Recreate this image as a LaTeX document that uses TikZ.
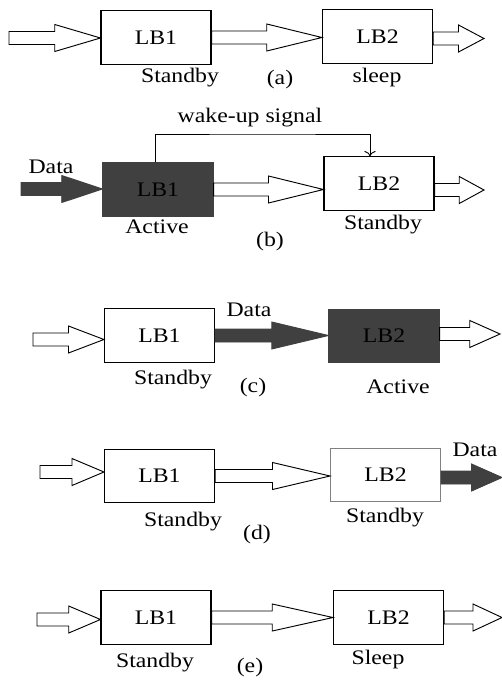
\documentclass[tikz,border=0pt]{standalone}
\usepackage{fontspec}
\setmainfont{Liberation Serif}[FakeStretch=1.15]
\usepackage{xcolor}
\usetikzlibrary{calc, arrows.meta}

\definecolor{activegray}{HTML}{404040}

\tikzset{
  lbbox/.style={draw, rectangle, line width=0.8pt, minimum width=82.5pt, minimum height=40pt, inner sep=0pt},
  activebox/.style={lbbox, fill=activegray, draw=activegray},
  hollowarrow/.style={draw, line width=0.7pt, fill=white},
  dataarrow/.style={draw=activegray, fill=activegray, line width=0.7pt}
}

% fat arrow from a tail point to the x of a target, at the tail's height
\newcommand{\blockarrow}[3][hollowarrow]{%
  \path (#2) coordinate (bat) (bat -| #3) coordinate (bap);
  \path ($(bat)!0.5!(bap)$) coordinate (bam);
  \draw[#1] ($(bat)+(0,-6.5)$) -- ($(bam)+(0,-6.5)$) -- ($(bam)+(0,-13.5)$) -- (bap)
    -- ($(bam)+(0,13.5)$) -- ($(bam)+(0,6.5)$) -- ($(bat)+(0,6.5)$) -- cycle;}

\begin{document}
\begin{tikzpicture}[x=0.75pt, y=-0.75pt, font=\fontsize{15.5}{18}\selectfont]
        \useasboundingbox (0,0) rectangle (502,681);

        % (a)
        \node[lbbox] (lb1a) at (156,37.5) {LB1};
        \node[lbbox] (lb2a) at (377.5,36.5) {LB2};
        \coordinate (ina) at (9,38);
        \coordinate (outa) at (484,38.5);
        \blockarrow{ina}{lb1a.west}
        \blockarrow{lb1a.east}{lb2a.west}
        \blockarrow{lb2a.east |- outa}{outa}
        \node (sta) at (180,78) {Standby};
        \node (capa) at (280,80) {(a)};
        \node (sla) at (377,78) {sleep};

        % (b)
        \node[activebox] (lb1b) at (158,189.5) {LB1};
        \node[lbbox] (lb2b) at (379,183.5) {LB2};
        \coordinate (inb) at (21,189);
        \coordinate (outb) at (484,190);
        \coordinate (wk) at (262,134);
        \blockarrow[dataarrow]{inb}{lb1b.west}
        \blockarrow{lb1b.east}{lb2b.west}
        \blockarrow{lb2b.east |- outb}{outb}
        \draw[line width=0.7pt, -{To[length=4pt]}] ($(lb1b.north)+(-3,0)$) |- (wk) -| ($(lb2b.north)+(-9,0)$);
        \node (wake) at (250,118) {wake-up signal};
        \node (datb) at (51,167) {Data};
        \node (acb) at (157,227) {Active};
        \node (stb) at (383,225) {Standby};
        \node (capb) at (270,242) {(b)};

        % (c)
        \node[lbbox] (lb1c) at (159.5,335.5) {LB1};
        \node[activebox] (lb2c) at (384,336) {LB2};
        \coordinate (inc) at (33,339.5);
        \coordinate (outc) at (500,334);
        \blockarrow{inc}{lb1c.west}
        \blockarrow[dataarrow]{lb1c.east}{lb2c.west}
        \blockarrow{lb2c.east |- outc}{outc}
        \node (datc) at (249,310) {Data};
        \node (stc) at (173,380) {Standby};
        \node (capc) at (253,388) {(c)};
        \node (acc) at (398,387) {Active};

        % (d)
        \node[lbbox] (lb1d) at (159.5,476) {LB1};
        \node[lbbox, draw=gray] (lb2d) at (385.5,475) {LB2};
        \coordinate (ind) at (40,472);
        \coordinate (outd) at (502,477.5);
        \blockarrow{ind}{lb1d.west}
        \blockarrow{lb1d.east}{lb2d.west}
        \blockarrow[dataarrow]{lb2d.east |- outd}{outd}
        \node (datd) at (475,450) {Data};
        \node (std) at (183,522) {Standby};
        \node (capd) at (257,535) {(d)};
        \node (st2d) at (385,518) {Standby};

        % (e)
        \node[lbbox] (lb1e) at (156,617.5) {LB1};
        \node[lbbox] (lb2e) at (388.5,617.5) {LB2};
        \coordinate (ine) at (37,619.5);
        \coordinate (oute) at (502,617.5);
        \blockarrow{ine}{lb1e.west}
        \blockarrow{lb1e.east}{lb2e.west}
        \blockarrow{lb2e.east |- oute}{oute}
        \node (ste) at (155,663) {Standby};
        \node (cape) at (250,668) {(e)};
        \node (sle) at (378,660) {Sleep};
\end{tikzpicture}
\end{document}
